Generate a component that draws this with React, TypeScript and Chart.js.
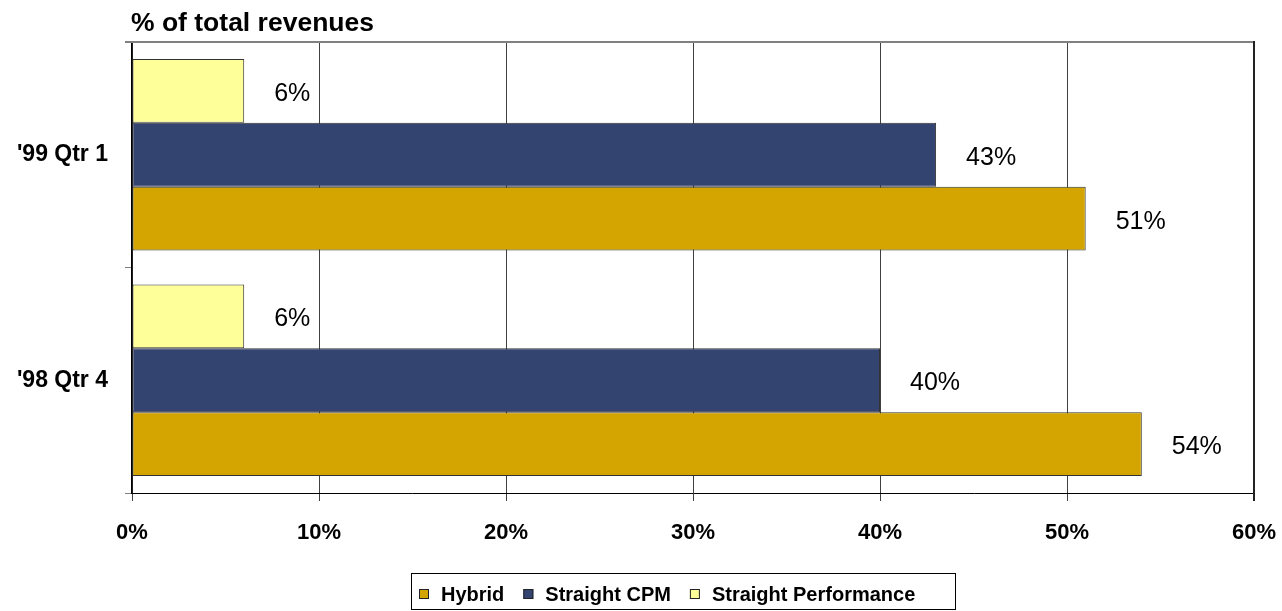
import { useEffect, useRef } from 'react';
import { Chart, registerables } from 'chart.js';

Chart.register(...registerables);

// Quarter categories, top to bottom
const categories = ["'99 Qtr 1", "'98 Qtr 4"];

// Share of total revenues (%) per pricing model
const hybrid = [51, 54];
const straightCpm = [43, 40];
const straightPerformance = [6, 6];

const seriesNames = ['Hybrid', 'Straight CPM', 'Straight Performance'];
const xTickValues = [0, 10, 20, 30, 40, 50, 60];
const chartTitle = '% of total revenues';

const FONT = '"Liberation Sans", Arial, Helvetica, sans-serif';
const HYBRID_COLOR = '#D4A500';
const CPM_COLOR = '#334470';
const PERF_COLOR = '#FFFF99';
const BAR_EDGE = '#333333';

// Title above the plot, aligned with the value axis start
const titlePlugin = {
  id: 'chartTitleText',
  afterDraw(chart: any) {
    const { ctx, chartArea } = chart;
    ctx.save();
    ctx.font = `bold 26.5px ${FONT}`;
    ctx.fillStyle = '#000';
    ctx.textAlign = 'left';
    ctx.textBaseline = 'alphabetic';
    ctx.fillText(chartTitle, chartArea.left - 1, 31);
    ctx.restore();
  },
};

// Top and right edges of the plot area
const framePlugin = {
  id: 'plotFrame',
  afterDraw(chart: any) {
    const { ctx, chartArea } = chart;
    ctx.save();
    ctx.strokeStyle = '#808080';
    ctx.lineWidth = 2;
    ctx.beginPath();
    ctx.moveTo(chartArea.left - 7, chartArea.top);
    ctx.lineTo(chartArea.right, chartArea.top);
    ctx.stroke();
    ctx.strokeStyle = '#222';
    ctx.lineWidth = 2;
    ctx.beginPath();
    ctx.moveTo(chartArea.right, chartArea.top - 1);
    ctx.lineTo(chartArea.right, chartArea.bottom + 8);
    ctx.stroke();
    ctx.restore();
  },
};

// Percentage labels to the right of each bar
const valueLabelPlugin = {
  id: 'valueLabels',
  afterDatasetsDraw(chart: any) {
    const { ctx } = chart;
    ctx.save();
    ctx.font = `25px ${FONT}`;
    ctx.fillStyle = '#000';
    ctx.textAlign = 'left';
    ctx.textBaseline = 'middle';
    chart.data.datasets.forEach((ds: any, di: number) => {
      const meta = chart.getDatasetMeta(di);
      meta.data.forEach((el: any, i: number) => {
        ctx.fillText(`${ds.data[i]}%`, el.x + 30, el.y + 3);
      });
    });
    ctx.restore();
  },
};

// Boxed legend below the axis, in series order
const legendPlugin = {
  id: 'boxedLegend',
  afterDraw(chart: any) {
    const { ctx } = chart;
    const fills = [HYBRID_COLOR, CPM_COLOR, PERF_COLOR];
    ctx.save();
    ctx.strokeStyle = '#000';
    ctx.lineWidth = 1;
    ctx.strokeRect(411.5, 573.5, 544, 36);
    ctx.font = `bold 20px ${FONT}`;
    ctx.textAlign = 'left';
    ctx.textBaseline = 'middle';
    let x = 419;
    const cy = 594;
    seriesNames.forEach((name, i) => {
      ctx.fillStyle = fills[i];
      ctx.fillRect(x, cy - 5, 10, 10);
      ctx.strokeStyle = '#222';
      ctx.strokeRect(x + 0.5, cy - 4.5, 9, 9);
      ctx.fillStyle = '#000';
      ctx.fillText(name, x + 22, cy + 1);
      x += 22 + ctx.measureText(name).width + 19;
    });
    ctx.restore();
  },
};

export default function App() {
  const canvasRef = useRef<HTMLCanvasElement | null>(null);

  useEffect(() => {
    const canvas = canvasRef.current;
    if (!canvas) return;

    const barCommon = {
      barPercentage: 1,
      categoryPercentage: 0.85,
      borderWidth: 1,
      borderColor: BAR_EDGE,
      borderSkipped: false,
    };

    const chart = new Chart(canvas, {
      type: 'bar',
      data: {
        labels: categories,
        datasets: [
          { label: seriesNames[2], data: straightPerformance, backgroundColor: PERF_COLOR, ...barCommon },
          { label: seriesNames[1], data: straightCpm, backgroundColor: CPM_COLOR, ...barCommon },
          { label: seriesNames[0], data: hybrid, backgroundColor: HYBRID_COLOR, ...barCommon },
        ],
      } as any,
      options: {
        indexAxis: 'y',
        animation: false,
        responsive: true,
        maintainAspectRatio: false,
        layout: { padding: { top: 42, left: 0, right: 28, bottom: 58 } },
        plugins: {
          legend: { display: false },
          title: { display: false },
          tooltip: { enabled: false },
        },
        scales: {
          x: {
            type: 'linear',
            min: 0,
            max: 60,
            afterBuildTicks: (scale: any) => {
              scale.ticks = xTickValues.map((v) => ({ value: v }));
            },
            afterFit: (scale: any) => {
              scale.height = 60;
              scale.paddingLeft = 0;
              scale.paddingRight = 0;
            },
            ticks: {
              callback: (v: any) => `${v}%`,
              color: '#000',
              font: { family: FONT, size: 22, weight: 'bold' },
              padding: 19,
              maxRotation: 0,
            },
            grid: {
              color: '#404040',
              lineWidth: 1,
              tickLength: 8,
              drawTicks: true,
            },
            border: { display: true, color: '#000', width: 1 },
          },
          y: {
            type: 'category',
            afterFit: (scale: any) => {
              scale.width = 132;
            },
            ticks: {
              color: '#000',
              font: { family: FONT, size: 23, weight: 'bold' },
              padding: 17,
            },
            grid: {
              drawOnChartArea: false,
              drawTicks: true,
              tickLength: 7,
              color: '#808080',
              offset: true,
            },
            border: { display: true, color: '#000', width: 1.5 },
          },
        },
      } as any,
      plugins: [framePlugin, valueLabelPlugin, titlePlugin, legendPlugin],
    });

    return () => chart.destroy();
  }, []);

  return (
    <div
      style={{
        position: 'fixed',
        left: 0,
        top: 0,
        width: 1282,
        height: 611,
        background: '#fff',
      }}
    >
      <canvas ref={canvasRef} />
    </div>
  );
}
